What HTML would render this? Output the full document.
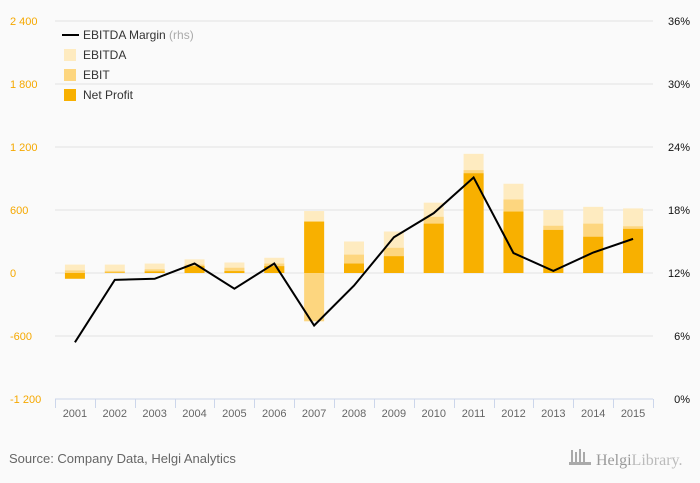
<!DOCTYPE html>
<html><head><meta charset="utf-8"><style>
body{margin:0;background:#fafafa;}
svg{display:block;font-family:"Liberation Sans",sans-serif;}
</style></head><body>
<svg id="c" width="700" height="483">
<rect width="700" height="483" fill="#fafafa"/>
<g id="grid"></g><g id="bars"></g><g id="line"></g><g id="axes"></g>
<g font-size="12" fill="#333">
 <line x1="62" y1="35" x2="79" y2="35" stroke="#000" stroke-width="2"/>
 <text x="83" y="39">EBITDA Margin <tspan fill="#aaa">(rhs)</tspan></text>
 <rect x="64" y="49" width="12" height="12" fill="#feebc0"/><text x="83" y="59">EBITDA</text>
 <rect x="64" y="69" width="12" height="12" fill="#fdd67f"/><text x="83" y="79">EBIT</text>
 <rect x="64" y="89" width="12" height="12" fill="#f8b000"/><text x="83" y="99">Net Profit</text>
</g>
<text x="9" y="463" font-size="13" fill="#666">Source: Company Data, Helgi Analytics</text>
<g fill="#aaa">
 <rect x="571" y="450" width="2" height="14"/><rect x="575" y="452" width="2" height="12"/><rect x="579" y="449" width="2" height="15"/><rect x="583" y="452" width="2" height="12"/><rect x="569" y="462" width="22" height="3"/>
 <text x="596" y="465" font-size="16" font-family="Liberation Serif,serif" fill="#999">Helgi<tspan fill="#bbb">Library.</tspan></text>
</g>
</svg>
<script>
const years=["2001","2002","2003","2004","2005","2006","2007","2008","2009","2010","2011","2012","2013","2014","2015"];
const ebitda=[80,80,90,130,100,145,590,300,395,670,1135,850,600,630,615];
const ebit=[25,20,35,80,50,90,-460,175,240,535,980,700,450,470,445];
const netProfit=[-55,5,15,65,18,65,490,90,160,470,950,585,410,345,420];
const margin=[5.4,11.35,11.45,12.9,10.5,12.9,7.0,10.8,15.4,17.7,21.1,13.9,12.2,13.95,15.25];
const leftTicks=[2400,1800,1200,600,0,-600,-1200];
const rightTicks=[36,30,24,18,12,6,0];
const NS="http://www.w3.org/2000/svg";
const x0=55,x1=653,yTop=21,yBot=399;
const yL=v=>yBot-(v+1200)/3600*(yBot-yTop);
const yR=v=>yBot-v/36*(yBot-yTop);
const step=(x1-x0)/years.length;
const xc=i=>x0+step*(i+0.5);
function mk(t,a,p){const e=document.createElementNS(NS,t);for(const k in a)e.setAttribute(k,a[k]);p.appendChild(e);return e;}
const grid=document.getElementById('grid'),bars=document.getElementById('bars'),line=document.getElementById('line'),axes=document.getElementById('axes');
leftTicks.forEach((v,i)=>{
 const y=yL(v);
 if(v!==-1200){const g=mk('line',{x1:x0,x2:x1,y1:y,y2:y,stroke:'#e3e3e3'},grid);
 
 }
 const t=mk('text',{x:10,y:y+4,'font-size':11,fill:'#f5a800'},axes);
 t.textContent=v.toLocaleString('en').replace(',',' ');
 
 
});
rightTicks.forEach(v=>{
 const t=mk('text',{x:690,y:yR(v)+4,'font-size':11,fill:'#111','text-anchor':'end'},axes);
 t.textContent=v+'%';
 
 
});
const ax=mk('line',{x1:x0,x2:x1,y1:yBot,y2:yBot,stroke:'#ccd6eb'},axes);


for(let i=0;i<=years.length;i++){const xx=Math.round(x0+step*i)+0.5;
 const tk=mk('line',{x1:xx,x2:xx,y1:yBot,y2:yBot+9,stroke:'#ccd6eb'},axes);
 
 }
years.forEach((yr,i)=>{
 const t=mk('text',{x:xc(i),y:417,'font-size':11,fill:'#666','text-anchor':'middle'},axes);
 t.textContent=yr;
 
 
 [[ebitda,'#feebc0','bar-ebitda'],[ebit,'#fdd67f','bar-ebit'],[netProfit,'#f8b000','bar-net-profit']].forEach(([arr,col,nm])=>{
  const v=arr[i],a=yL(0),b=yL(v);
  const r=mk('rect',{x:xc(i)-10,width:20,y:Math.min(a,b),height:Math.abs(a-b),fill:col},bars);
  
  
 });
});
const p=mk('polyline',{points:margin.map((m,i)=>xc(i)+','+yR(m)).join(' '),fill:'none',stroke:'#000','stroke-width':2},line);


</script>
</body></html>
